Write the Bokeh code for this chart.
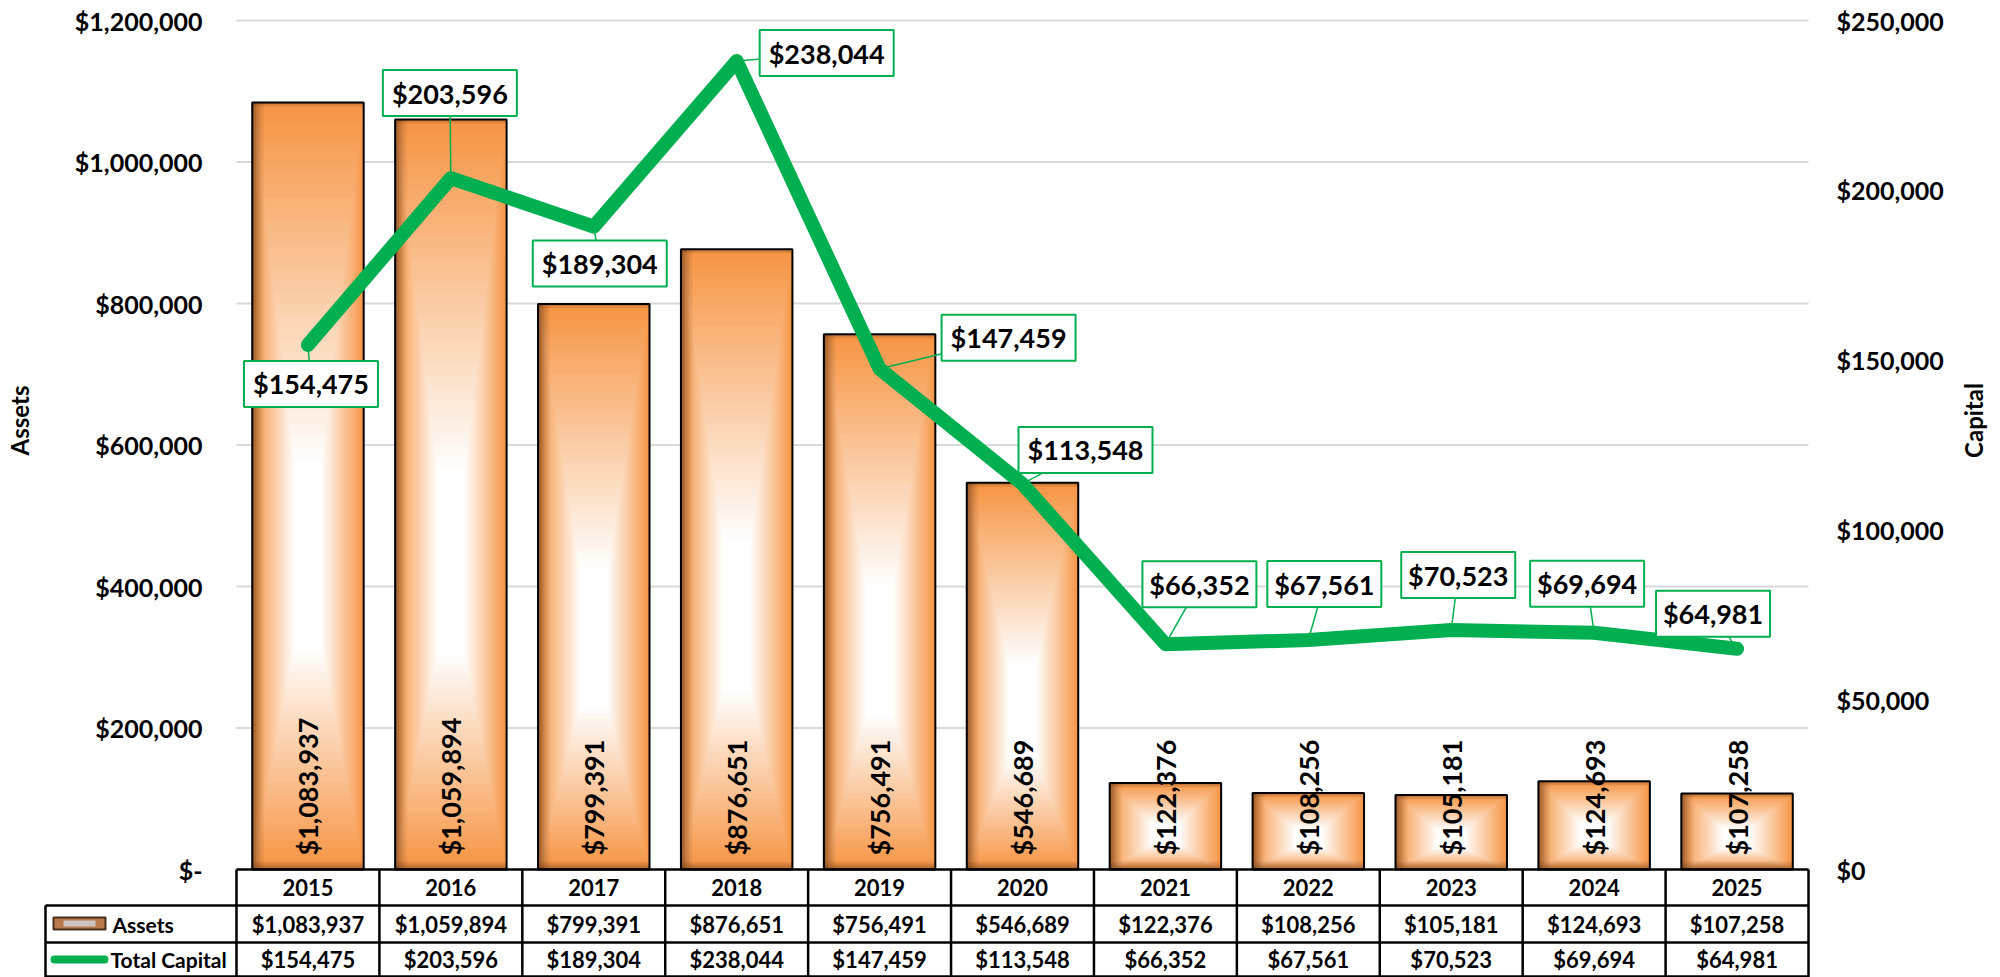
import math
from bokeh.plotting import figure
from bokeh.models import Range1d, LinearAxis, FixedTicker, NumeralTickFormatter
from bokeh.core.properties import value
from bokeh.embed import file_html
from bokeh.resources import INLINE

# ---------------- data ----------------
years = ["2015", "2016", "2017", "2018", "2019", "2020", "2021", "2022", "2023", "2024", "2025"]
assets = [1083937, 1059894, 799391, 876651, 756491, 546689, 122376, 108256, 105181, 124693, 107258]
capital = [154475, 203596, 189304, 238044, 147459, 113548, 66352, 67561, 70523, 69694, 64981]
assets_ticks = [0, 200000, 400000, 600000, 800000, 1000000, 1200000]
capital_ticks = [0, 50000, 100000, 150000, 200000, 250000]
series_names = ["Assets", "Total Capital"]
axis_titles = ["Assets", "Capital"]

# label placement offsets (pixels, from the point to the label-box centre; +dy = downward)
cap_label_dx = [3, -1, 6, 90, 129, 63, 34, 16, 7, -7, -24]
cap_label_dy = [39, -85, 37, -8, -31, -34, -60, -56, -55, -49, -35]

# ---------------- layout geometry ----------------
W, H = 2000, 977
FL, FR = 236, 1808          # plot-area left / right (px)
TOP = 20                    # px of the top tick
ZERO = 869                  # px of value 0
n = len(years)
xpp = n / (FR - FL)                          # x data units per px
upp = assets_ticks[-1] / (ZERO - TOP)        # left units per px
cpp = capital_ticks[-1] / (ZERO - TOP)       # right units per px

def X(px):  # pixel column -> x data
    return (px - FL) * xpp

def py(px):  # pixel row -> left-axis data
    return (ZERO - px) * upp

FONT = "Lato"
GREEN = "#00B050"
ORANGE = (247, 150, 70)

p = figure(width=W, height=H, x_range=Range1d(X(0), X(W)),
           y_range=Range1d(py(H), py(0)),
           output_backend="svg", toolbar_location=None,
           x_axis_location=None, y_axis_location=None,
           min_border=0, min_border_left=0, min_border_right=0, min_border_top=0, min_border_bottom=0,
           outline_line_color=None, background_fill_color="white", border_fill_color="white")
p.extra_y_ranges = {"cap": Range1d((ZERO - H) * cpp, ZERO * cpp)}
p.grid.visible = False

# axes (fixed at the plot-area edges)
la = LinearAxis(fixed_location=0, ticker=FixedTicker(ticks=assets_ticks),
                formatter=NumeralTickFormatter(format="$0,0"),
                major_label_overrides={0: "$-"})
ra = LinearAxis(fixed_location=n, y_range_name="cap", ticker=FixedTicker(ticks=capital_ticks),
                formatter=NumeralTickFormatter(format="$0,0"))
for ax, st in ((la, 34), (ra, 28)):
    ax.axis_line_color = None
    ax.major_tick_line_color = None
    ax.minor_tick_line_color = None
    ax.major_tick_out = 0
    ax.major_tick_in = 0
    ax.major_label_standoff = st
    ax.major_label_text_font = FONT
    ax.major_label_text_font_style = "bold"
    ax.major_label_text_font_size = "25px"
    ax.major_label_text_color = "black"
p.add_layout(la, "left")
p.add_layout(ra, "right")

# horizontal gridlines across the plot area
gt_ = assets_ticks[1:]
p.segment(x0=[0] * len(gt_), x1=[n] * len(gt_), y0=gt_, y1=gt_, line_color="#D9D9D9", line_width=2)

# ---------------- bars (path gradient) ----------------
cx = [i + 0.5 for i in range(n)]
hw = 0.39
N = 40
gl, gr, gb, gt, gc = [], [], [], [], []
for i, v in enumerate(assets):
    fy = v * 0.38
    for k in range(N):
        s = 1 - k / N
        t = min(1.0, (k / N) / 0.75)
        r = int(ORANGE[0] + (255 - ORANGE[0]) * t)
        g = int(ORANGE[1] + (255 - ORANGE[1]) * t)
        b = int(ORANGE[2] + (255 - ORANGE[2]) * t)
        gl.append(cx[i] - hw * s); gr.append(cx[i] + hw * s)
        gb.append(fy - fy * s); gt.append(fy + (v - fy) * s)
        gc.append("#%02x%02x%02x" % (r, g, b))
p.quad(left=gl, right=gr, bottom=gb, top=gt, fill_color=gc, line_color=None)

# edge shading (left, bottom, top)
sl, sr, sb, st_, sa = [], [], [], [], []
for i, v in enumerate(assets):
    for j, a in enumerate([0.6, 0.46, 0.33, 0.22, 0.13, 0.06]):
        x0 = cx[i] - hw + j * 2 * xpp
        sl.append(x0); sr.append(x0 + 2 * xpp); sb.append(0); st_.append(v); sa.append(a)
    for j, a in enumerate([0.5, 0.35, 0.22, 0.1]):
        y0 = j * 2 * upp
        sl.append(cx[i] - hw); sr.append(cx[i] + hw); sb.append(y0); st_.append(y0 + 2 * upp); sa.append(a)
    for j, a in enumerate([0.3, 0.15]):
        y1 = v - j * 2 * upp
        sl.append(cx[i] - hw); sr.append(cx[i] + hw); sb.append(y1 - 2 * upp); st_.append(y1); sa.append(a)
p.quad(left=sl, right=sr, bottom=sb, top=st_, fill_color="#5C3317", fill_alpha=sa, line_color=None)

p.quad(left=[c - hw for c in cx], right=[c + hw for c in cx], bottom=[0] * n, top=assets,
       fill_color=None, line_color="black", line_width=2)

# bar value labels
p.text(x=cx, y=[14 * upp] * n, text=["${:,}".format(v) for v in assets], angle=math.pi / 2,
       text_align="left", text_baseline="middle", text_font=value(FONT), text_font_style="bold",
       text_font_size="27px", text_color="black")

# ---------------- capital line ----------------
p.line(x=cx, y=capital, y_range_name="cap", line_color=GREEN, line_width=14,
       line_cap="round", line_join="round")

cap_text = ["${:,}".format(v) for v in capital]
bx = [cx[i] + cap_label_dx[i] * xpp for i in range(n)]
by = [capital[i] - cap_label_dy[i] * cpp for i in range(n)]
bw = [134 if len(t) >= 8 else 114 for t in cap_text]
p.segment(x0=cx, y0=capital, x1=bx, y1=by, y_range_name="cap", line_color=GREEN, line_width=1.5)
p.rect(x=bx, y=by, width=bw, height=46, width_units="screen", height_units="screen",
       y_range_name="cap", fill_color="white", line_color=GREEN, line_width=2)
p.text(x=bx, y=by, text=cap_text, y_range_name="cap", text_align="center", text_baseline="middle",
       text_font=value(FONT), text_font_style="bold", text_font_size="27px", text_color="black")

# ---------------- data table ----------------
ROW = [ZERO, 905, 942, H - 1]
LC = 45                                   # left edge of the legend column (px)
hx0 = [0, X(LC), X(LC), X(LC)]
hy = [py(ROW[0]), py(ROW[1]), py(ROW[2]), py(ROW[3])]
p.segment(x0=hx0, x1=[n] * 4, y0=hy, y1=hy, line_color="black", line_width=2.5)
vx = [X(LC)] + list(range(n + 1))
vy0 = [py(ROW[1])] + [py(ROW[0])] * (n + 1)
p.segment(x0=vx, x1=vx, y0=vy0, y1=[py(H)] * len(vx), line_color="black", line_width=2.5)

tk = dict(text_align="center", text_baseline="middle", text_font=value(FONT),
          text_font_style="bold", text_font_size="22px", text_color="black")
rc = [(ROW[i] + ROW[i + 1]) / 2 for i in range(3)]
p.text(x=cx, y=[py(rc[0])] * n, text=years, **tk)
p.text(x=cx, y=[py(rc[1])] * n, text=["${:,}".format(v) for v in assets], **tk)
p.text(x=cx, y=[py(rc[2])] * n, text=cap_text, **tk)

# legend keys inside the table
p.quad(left=[X(53)], right=[X(105)], bottom=[py(929)], top=[py(917)],
       fill_color="#B87A4A", line_color="#4A2E18", line_width=2)
p.quad(left=[X(63)], right=[X(95)], bottom=[py(926)], top=[py(920)],
       fill_color="#CBC4C0", line_color=None)
p.line(x=[X(54), X(104)], y=[py(rc[2])] * 2, line_color=GREEN, line_width=8, line_cap="round")
p.text(x=[X(112), X(110)], y=[py(rc[1]), py(rc[2])], text=series_names, text_align="left",
       text_baseline="middle", text_font=value(FONT), text_font_style="bold",
       text_font_size="21px", text_color="black")

# axis titles
p.text(x=[X(19), X(1973)], y=[py(420)] * 2, text=axis_titles, angle=math.pi / 2,
       text_align="center", text_baseline="middle", text_font=value(FONT),
       text_font_style="bold", text_font_size="24px", text_color="black")

open("out.html", "w").write(file_html(p, INLINE))
